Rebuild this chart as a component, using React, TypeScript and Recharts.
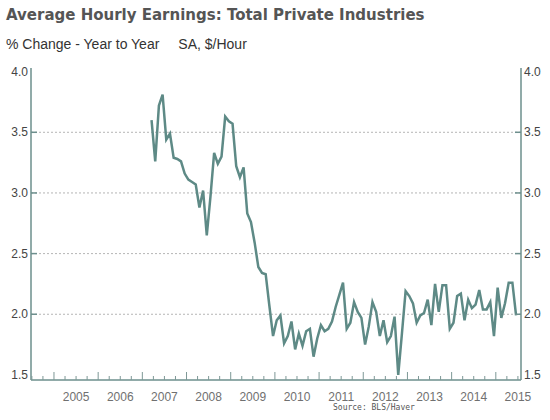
import React from 'react';
import { LineChart, Line, XAxis, YAxis, ReferenceLine } from 'recharts';

// % change year to year, monthly; 2007 starts in March
const y2007 = [3.6, 3.26, 3.72, 3.81, 3.44, 3.49, 3.29, 3.28, 3.26, 3.16];
const y2008 = [3.11, 3.09, 3.07, 2.88, 3.02, 2.65, 2.97, 3.33, 3.24, 3.3, 3.63, 3.59];
const y2009 = [3.57, 3.22, 3.13, 3.21, 2.83, 2.76, 2.59, 2.39, 2.34, 2.33, 2.07, 1.82];
const y2010 = [1.95, 1.99, 1.76, 1.82, 1.94, 1.71, 1.84, 1.74, 1.86, 1.88, 1.65, 1.8];
const y2011 = [1.91, 1.86, 1.88, 1.94, 2.06, 2.16, 2.26, 1.88, 1.93, 2.1, 2.02, 1.97];
const y2012 = [1.75, 1.9, 2.1, 2.02, 1.82, 1.95, 1.77, 1.82, 1.98, 1.5, 1.84, 2.19];
const y2013 = [2.15, 2.09, 1.93, 1.99, 2.01, 2.12, 1.91, 2.25, 2.02, 2.24, 2.24, 1.88];
const y2014 = [1.93, 2.15, 2.17, 1.95, 2.12, 2.05, 2.08, 2.2, 2.04, 2.04, 2.1, 1.82];
const y2015 = [2.22, 1.97, 2.09, 2.26, 2.26, 1.99];

const yearLabels = [2005, 2006, 2007, 2008, 2009, 2010, 2011, 2012, 2013, 2014, 2015];
const valueTicks = [1.5, 2.0, 2.5, 3.0, 3.5, 4.0];
const gridValues = [2.0, 2.5, 3.0, 3.5];

const series: [number, number, number[]][] = [
  [2007, 3, y2007],
  [2008, 1, y2008],
  [2009, 1, y2009],
  [2010, 1, y2010],
  [2011, 1, y2011],
  [2012, 1, y2012],
  [2013, 1, y2013],
  [2014, 1, y2014],
  [2015, 1, y2015],
];

// month m of year Y sits at mid-month: Y + (m - 0.5) / 12
const data = series.flatMap(([year, first, vals]) =>
  vals.map((v, i) => ({ t: year + (first + i - 0.5) / 12, v }))
);

const xDomain: [number, number] = [2004.48, 2015.57];
const yDomain: [number, number] = [1.458, 4.03];

const quarterTicks = [yearLabels[0] - 1, ...yearLabels]
  .flatMap((y) => [0, 0.25, 0.5, 0.75].map((q) => y + q))
  .filter((t) => t > xDomain[0] && t < xDomain[1]);

const frame = '#6d8f8d';
const lineColor = '#5e8a86';
const font = '"Liberation Sans", Arial, sans-serif';

const XTick = (props: any) => {
  const { x, y, payload } = props;
  const t = payload.value as number;
  const year = Math.floor(t);
  const frac = t - year;
  const major = frac === 0;
  return (
    <g>
      <line x1={x} x2={x} y1={y} y2={y - (major ? 8 : 4)} stroke="#7d9896" strokeWidth={1} />
      {frac === 0.5 && yearLabels.includes(year) && (
        <text x={x} y={y + 21} textAnchor="middle" fontFamily={font} fontSize={12} fill="#707070">
          {year}
        </text>
      )}
    </g>
  );
};

const LeftTick = (props: any) => {
  const { x, y, payload } = props;
  const v = payload.value as number;
  return (
    <g>
      {gridValues.includes(v) && <line x1={x} x2={x + 6} y1={y} y2={y} stroke={frame} strokeWidth={1.5} />}
      <text x={x - 3} y={y + 4} textAnchor="end" fontFamily={font} fontSize={12} fill="#444">
        {v.toFixed(1)}
      </text>
    </g>
  );
};

const RightTick = (props: any) => {
  const { x, y, payload } = props;
  const v = payload.value as number;
  return (
    <g>
      {gridValues.includes(v) && <line x1={x - 6} x2={x} y1={y} y2={y} stroke={frame} strokeWidth={1.5} />}
      <text x={x + 3} y={y + 4} textAnchor="start" fontFamily={font} fontSize={12} fill="#444">
        {v.toFixed(1)}
      </text>
    </g>
  );
};

export default function App() {
  return (
    <div style={{ position: 'absolute', left: 0, top: 0, width: 550, height: 420, background: '#fff' }}>
      <div
        style={{
          position: 'absolute',
          left: 6,
          top: 6,
          fontFamily: '"DejaVu Sans", Verdana, sans-serif',
          fontWeight: 'bold',
          fontSize: 15,
          lineHeight: '18px',
          color: '#555',
          whiteSpace: 'nowrap',
        }}
      >
        Average Hourly Earnings: Total Private Industries
      </div>
      <div
        style={{
          position: 'absolute',
          left: 6,
          top: 36,
          fontFamily: font,
          fontSize: 14,
          lineHeight: '16px',
          color: '#333',
          whiteSpace: 'nowrap',
        }}
      >
        <span>% Change - Year to Year</span>
        <span style={{ marginLeft: 19 }}>SA, $/Hour</span>
      </div>
      <LineChart width={550} height={420} data={data} margin={{ top: 68, right: 0, bottom: 0, left: 0 }}>
        <XAxis
          dataKey="t"
          type="number"
          domain={xDomain}
          allowDataOverflow
          ticks={quarterTicks}
          interval={0}
          tick={<XTick />}
          tickLine={false}
          tickSize={0}
          tickMargin={0}
          height={40}
          axisLine={{ stroke: frame, strokeWidth: 1.5 }}
        />
        <XAxis
          xAxisId="top"
          orientation="top"
          dataKey="t"
          type="number"
          domain={xDomain}
          allowDataOverflow
          tick={false}
          tickLine={false}
          height={0}
          axisLine={{ stroke: frame, strokeWidth: 1.5 }}
        />
        <YAxis
          type="number"
          domain={yDomain}
          allowDataOverflow
          ticks={valueTicks}
          interval={0}
          tick={<LeftTick />}
          tickLine={false}
          tickSize={0}
          tickMargin={0}
          width={31}
          axisLine={{ stroke: frame, strokeWidth: 1.5 }}
        />
        <YAxis
          yAxisId="r"
          orientation="right"
          type="number"
          domain={yDomain}
          allowDataOverflow
          ticks={valueTicks}
          interval={0}
          tick={<RightTick />}
          tickLine={false}
          tickSize={0}
          tickMargin={0}
          width={29}
          axisLine={{ stroke: frame, strokeWidth: 1.5 }}
        />
        {gridValues.map((g) => (
          <ReferenceLine key={g} y={g} stroke="#b5b5b5" strokeDasharray="2 2" strokeWidth={1} />
        ))}
        <Line
          type="linear"
          dataKey="v"
          stroke={lineColor}
          strokeWidth={2.5}
          dot={false}
          isAnimationActive={false}
        />
      </LineChart>
      <div
        style={{
          position: 'absolute',
          left: 333,
          top: 404,
          fontFamily: '"DejaVu Sans Mono", monospace',
          fontSize: 8,
          lineHeight: '8px',
          color: '#555',
          whiteSpace: 'nowrap',
        }}
      >
        Source: BLS/Haver
      </div>
    </div>
  );
}
